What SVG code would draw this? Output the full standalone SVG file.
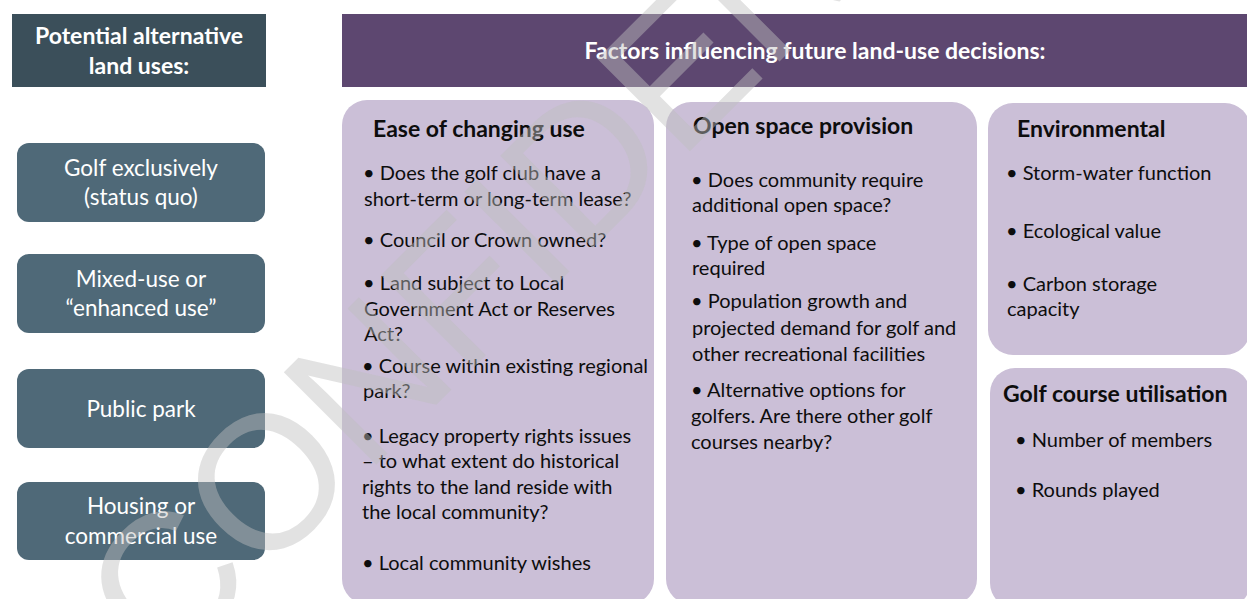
<svg xmlns="http://www.w3.org/2000/svg" width="1247" height="599" viewBox="0 0 1247 599">
  <style>
    .hdr-dark { fill: #3b4f5a; }
    .hdr-purple { fill: #5d4770; }
    .use { fill: #4f6978; }
    .factor { fill: #cbbfd7; }
    .t { font-family: Lato, "Liberation Sans", sans-serif; }
    .hdr-txt { font-size: 23px; font-weight: bold; fill: #ffffff; }
    .use-txt { font-size: 22.5px; fill: #ffffff; text-anchor: middle; }
    .ttl { font-size: 23px; font-weight: bold; fill: #0d0d0d; }
    .body { font-size: 20px; fill: #0d0d0d; }
    .mark { font-family: "Liberation Sans", Arial, sans-serif; font-size: 190px; fill: #bfbfbf; fill-opacity: 0.45; }
  </style>

  <rect width="1247" height="599" fill="#ffffff"/>

  <!-- column headers -->
  <g id="header-uses">
    <rect class="hdr-dark" x="12" y="14" width="254" height="73"/>
    <text class="t hdr-txt" x="139" y="44" text-anchor="middle">Potential alternative</text>
    <text class="t hdr-txt" x="139" y="74" text-anchor="middle">land uses:</text>
  </g>
  <g id="header-factors">
    <rect class="hdr-purple" x="342" y="14" width="905" height="73"/>
    <text class="t hdr-txt" x="815" y="59" text-anchor="middle">Factors influencing future land-use decisions:</text>
  </g>

  <!-- alternative land uses -->
  <g id="use-golf">
    <rect class="use" x="17" y="143" width="248" height="79" rx="12"/>
    <text class="t use-txt" x="141" y="176">Golf exclusively</text>
    <text class="t use-txt" x="141" y="205">(status quo)</text>
  </g>
  <g id="use-mixed">
    <rect class="use" x="17" y="254" width="248" height="79" rx="12"/>
    <text class="t use-txt" x="141" y="287">Mixed-use or</text>
    <text class="t use-txt" x="141" y="316">“enhanced use”</text>
  </g>
  <g id="use-park">
    <rect class="use" x="17" y="369" width="248" height="79" rx="12"/>
    <text class="t use-txt" x="141" y="417">Public park</text>
  </g>
  <g id="use-housing">
    <rect class="use" x="17" y="482" width="248" height="78" rx="12"/>
    <text class="t use-txt" x="141" y="514">Housing or</text>
    <text class="t use-txt" x="141" y="544">commercial use</text>
  </g>

  <!-- factor panels -->
  <g id="factor-ease">
    <rect class="factor" x="342" y="100" width="312" height="504" rx="25"/>
    <text class="t ttl" x="373" y="137">Ease of changing use</text>
    <text class="t body" x="363" y="180">• Does the golf club have a</text>
    <text class="t body" x="364" y="206">short-term or long-term lease?</text>
    <text class="t body" x="363" y="247">• Council or Crown owned?</text>
    <text class="t body" x="363" y="290">• Land subject to Local</text>
    <text class="t body" x="364" y="316">Government Act or Reserves</text>
    <text class="t body" x="364" y="341">Act?</text>
    <text class="t body" x="362" y="373">• Course within existing regional</text>
    <text class="t body" x="363" y="398">park?</text>
    <text class="t body" x="362" y="443">• Legacy property rights issues</text>
    <text class="t body" x="362" y="468">– to what extent do historical</text>
    <text class="t body" x="362" y="494">rights to the land reside with</text>
    <text class="t body" x="362" y="519">the local community?</text>
    <text class="t body" x="362" y="570">• Local community wishes</text>
  </g>
  <g id="factor-open-space">
    <rect class="factor" x="666" y="102" width="311" height="502" rx="25"/>
    <text class="t ttl" x="693" y="134">Open space provision</text>
    <text class="t body" x="691" y="187">• Does community require</text>
    <text class="t body" x="692" y="212">additional open space?</text>
    <text class="t body" x="691" y="250">• Type of open space</text>
    <text class="t body" x="692" y="275">required</text>
    <text class="t body" x="691" y="308">• Population growth and</text>
    <text class="t body" x="692" y="335">projected demand for golf and</text>
    <text class="t body" x="692" y="361">other recreational facilities</text>
    <text class="t body" x="691" y="397">• Alternative options for</text>
    <text class="t body" x="691" y="423">golfers. Are there other golf</text>
    <text class="t body" x="691" y="449">courses nearby?</text>
  </g>
  <g id="factor-environmental">
    <rect class="factor" x="988" y="103" width="262" height="252" rx="25"/>
    <text class="t ttl" x="1017" y="137">Environmental</text>
    <text class="t body" x="1006" y="180">• Storm-water function</text>
    <text class="t body" x="1006" y="238">• Ecological value</text>
    <text class="t body" x="1006" y="291">• Carbon storage</text>
    <text class="t body" x="1007" y="316">capacity</text>
  </g>
  <g id="factor-utilisation">
    <rect class="factor" x="990" y="368" width="260" height="240" rx="25"/>
    <text class="t ttl" x="1003" y="402">Golf course utilisation</text>
    <text class="t body" x="1015" y="447">• Number of members</text>
    <text class="t body" x="1015" y="497">• Rounds played</text>
  </g>

  <!-- no connectors in this layout -->
  <g id="connectors"/>

  <!-- diagonal watermark over the whole sheet -->
  <g id="watermark" transform="translate(313,528) rotate(-45)">
    <text class="mark" x="-211" y="0">CONFIDENTIAL</text>
  </g>
</svg>
